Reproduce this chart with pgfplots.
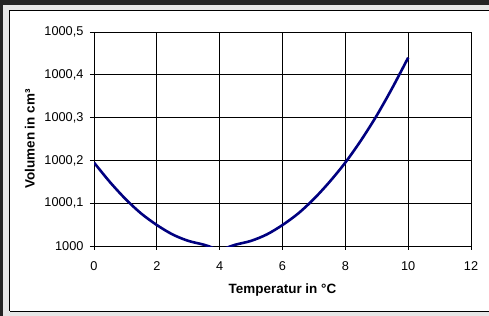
\documentclass[border=0pt]{standalone}
\usepackage{pgfplots}
\pgfplotsset{compat=1.18}
\usepackage{fontspec}
\setmainfont{Liberation Sans}
\definecolor{darkbg}{HTML}{242424}
\definecolor{lightbg}{HTML}{E6E6E6}
\definecolor{curve}{HTML}{000080}
\begin{document}
\begin{tikzpicture}
\useasboundingbox (0bp,0bp) rectangle (489bp,316bp);
\fill[darkbg] (0bp,0bp) rectangle (489bp,316bp);
\fill[lightbg] (3bp,0bp) rectangle (489bp,311bp);
\fill[white] (9bp,4bp) rectangle (492bp,306bp);
\draw[black,line width=1bp] (9.5bp,4.5bp) -- (9.5bp,305.5bp) -- (492bp,305.5bp);
\draw[black,line width=1bp] (9.5bp,4.5bp) -- (492bp,4.5bp);
\begin{axis}[
  at={(94bp,70bp)}, anchor=south west,
  scale only axis, width=377bp, height=214bp,
  xmin=0, xmax=12, ymin=1000, ymax=1000.5,
  xtick={0,2,...,12},
  ytick={1000,1000.1,1000.2,1000.3,1000.4,1000.5},
  yticklabels={1000,{1000,1},{1000,2},{1000,3},{1000,4},{1000,5}},
  /pgf/number format/assume math mode=true,
  tick align=outside, tick pos=left,
  major tick length=4bp,
  grid=major,
  major grid style={black, line width=0.9bp},
  axis line style={black, line width=0.9bp},
  every tick/.style={black, line width=0.9bp},
  tick label style={font=\fontsize{12.8}{14}\selectfont},
  xticklabel style={yshift=-8bp},
  yticklabel style={xshift=-3bp},
  label style={font=\fontsize{13.5}{15}\selectfont\bfseries},
  xlabel={Temperatur in °C},
  ylabel={Volumen in cm³},
  xlabel style={at={(axis description cs:0.5,-0.205)}, anchor=center},
  ylabel style={at={(axis description cs:-0.17,0.5)}, anchor=center},
  clip=true,
]
\addplot[curve, line width=2.6bp, smooth] coordinates {
(0,1000.195) (0.5,1000.150) (1,1000.110) (1.5,1000.076) (2,1000.049)
(2.5,1000.027) (3,1000.012) (3.5,1000.003) (3.8,999.995) (4,999.985)
(4.2,999.995) (4.5,1000.003) (5,1000.012) (5.5,1000.027) (6,1000.049)
(6.5,1000.076) (7,1000.110) (7.5,1000.150) (8,1000.195) (8.5,1000.247)
(9,1000.305) (9.5,1000.370) (10,1000.440)
};
\end{axis}
\end{tikzpicture}
\end{document}
